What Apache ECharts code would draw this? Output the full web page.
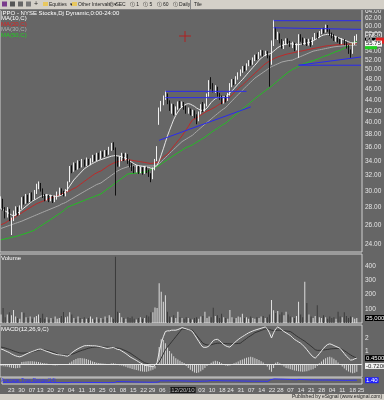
<!DOCTYPE html>
<html><head><meta charset="utf-8">
<script src="https://cdn.jsdelivr.net/npm/echarts@6/dist/echarts.min.js"></script>
<style>html,body{margin:0;padding:0;background:#666666;overflow:hidden}#main{width:384px;height:400px}</style>
</head><body><div id="main"></div>
<script>
// ---- data: [open, close, low, high] per trading day ----
const ohlc = [
[28.2,29.0,27.8,29.3],[28.8,28.0,27.6,29.0],[27.8,27.0,26.7,28.0],[27.2,27.6,26.8,28.0],[27.5,26.7,26.4,27.8],
[25.2,26.6,24.9,26.8],[26.6,27.4,26.4,27.6],[27.4,27.8,27.0,28.1],[27.8,27.2,27.0,28.0],[27.3,28.0,27.1,28.2],
[27.9,28.9,27.8,29.2],[28.9,28.6,28.3,29.3],[28.6,29.2,28.4,29.6],[29.2,28.8,28.5,29.5],[28.8,29.4,28.6,29.7],
[29.4,29.0,28.7,29.8],[29.0,29.8,28.9,30.1],[29.8,30.6,29.6,30.9],[30.5,30.9,30.2,31.2],[30.9,30.2,29.9,31.0],
[30.1,29.4,29.1,30.3],[29.4,29.0,28.7,29.6],[29.0,29.3,28.8,29.6],[29.3,28.9,28.6,29.5],[28.9,29.2,28.7,29.5],
[29.2,28.8,28.5,29.4],[28.8,29.1,28.6,29.4],[29.1,29.6,28.9,29.9],[29.6,30.1,29.4,30.4],[30.1,29.8,29.5,30.3],
[29.8,29.5,29.3,30.0],[29.5,29.9,29.3,30.2],[30.0,31.0,29.9,31.2],[31.2,33.0,31.1,33.3],[33.0,32.6,32.3,33.4],
[32.6,33.4,32.5,33.8],[33.4,33.0,32.7,33.7],[33.0,33.8,32.8,34.1],[33.8,33.2,33.0,34.0],[33.2,33.9,33.1,34.3],
[33.9,33.5,33.2,34.2],[33.5,34.1,33.3,34.5],[34.1,33.6,33.4,34.3],[33.6,34.0,33.4,34.4],[34.0,34.6,33.8,34.9],
[34.6,34.2,34.0,34.9],[34.2,34.9,34.0,35.2],[34.9,34.5,34.2,35.2],[34.5,35.2,34.3,35.5],[35.2,34.8,34.5,35.4],
[34.8,35.3,34.6,35.6],[35.3,35.0,34.7,35.6],[35.0,35.8,34.9,36.1],[35.8,36.3,35.5,36.7],[36.3,35.9,35.6,36.8],
[35.9,34.0,29.4,36.0],[34.0,33.6,33.2,34.6],[33.5,34.4,33.2,34.7],[34.4,34.9,34.0,35.2],[34.9,34.3,34.0,35.1],
[34.3,34.8,34.1,35.2],[34.8,34.0,33.6,35.0],[34.0,33.4,33.1,34.2],[33.4,33.0,32.6,33.7],[33.0,32.7,32.3,33.3],
[32.7,33.1,32.4,33.4],[33.1,32.5,32.2,33.3],[32.5,32.9,32.3,33.2],[32.9,32.4,32.1,33.1],[32.4,33.0,32.2,33.3],
[33.0,32.6,32.3,33.2],[32.6,32.1,31.8,32.8],[32.1,31.7,31.1,32.3],[31.7,32.9,31.5,33.1],[32.9,34.0,32.7,34.3],
[34.2,35.9,34.0,36.2],[39.8,42.3,39.6,42.6],[42.3,43.5,41.9,43.8],[43.5,44.4,43.0,44.8],[44.4,45.2,44.0,45.7],
[45.0,43.6,43.2,45.2],[43.6,42.4,42.0,43.9],[42.4,43.0,41.5,43.3],[43.0,41.6,41.2,43.2],[41.6,42.5,41.3,42.8],
[42.5,43.4,42.2,43.7],[43.4,42.8,42.5,43.8],[42.8,43.4,42.5,43.7],[43.4,42.6,42.2,43.6],[42.6,41.8,41.5,42.9],
[41.8,42.2,41.5,42.6],[42.2,41.5,41.2,42.4],[41.5,41.9,41.1,42.2],[41.9,41.2,40.7,42.1],[41.2,40.4,39.7,41.4],
[40.4,41.6,40.2,41.9],[41.6,42.8,41.4,43.2],[42.8,42.2,41.8,43.6],[42.2,43.0,41.9,43.3],[43.0,44.8,42.8,45.2],
[44.8,47.3,44.6,47.8],[47.3,46.8,46.0,48.4],[46.8,45.8,45.4,47.2],[45.8,46.3,45.3,46.8],[46.3,45.0,44.6,46.5],
[45.0,44.4,44.0,45.3],[44.4,43.6,43.2,44.8],[43.6,44.3,43.3,44.6],[44.3,44.0,43.5,44.8],[44.0,45.0,43.8,45.3],
[45.0,46.8,44.8,47.2],[46.8,47.6,46.4,48.0],[47.6,47.2,46.8,48.0],[47.2,48.2,47.0,48.6],[48.2,49.0,47.9,49.4],
[49.0,49.6,48.6,50.0],[49.6,50.4,49.3,50.7],[50.4,50.0,49.6,50.8],[50.0,51.0,49.8,51.3],[51.0,51.6,50.7,52.0],
[51.6,51.2,50.8,52.0],[51.2,52.2,51.0,52.6],[52.2,52.8,51.8,53.2],[52.8,52.4,52.0,53.3],[52.4,53.3,52.2,53.8],
[53.3,53.8,53.0,54.3],[53.8,53.2,52.8,54.2],[53.2,53.7,52.9,54.1],[53.7,52.8,52.4,54.0],[52.8,51.2,46.5,53.0],
[51.2,55.6,51.0,56.5],[55.6,59.2,55.2,61.6],[59.0,57.4,56.8,59.8],[57.4,58.0,56.6,58.6],[58.0,56.4,55.8,58.2],
[56.4,55.2,54.6,56.8],[55.2,55.9,54.5,56.4],[55.9,56.6,55.4,57.0],[56.6,56.0,55.6,57.0],[56.0,55.4,55.0,56.4],
[55.4,55.8,54.7,56.2],[55.8,54.6,54.0,56.0],[54.6,55.2,54.2,55.8],[54.4,57.6,52.5,58.0],[57.6,56.8,56.2,58.0],
[56.8,56.0,55.4,57.2],[56.0,56.6,55.5,57.0],[56.6,55.8,55.2,56.8],[55.8,56.4,55.3,56.9],[56.4,55.6,55.0,56.7],
[55.6,56.9,55.4,57.3],[56.9,57.9,56.6,58.3],[57.9,57.4,56.9,58.4],[57.4,58.4,57.2,58.8],[58.4,59.0,58.0,59.5],
[59.0,58.6,58.2,59.6],[58.6,59.6,58.4,60.4],[59.6,59.0,58.6,60.3],[59.0,58.0,57.6,59.3],[58.0,57.6,57.0,58.4],
[57.6,56.8,56.4,58.0],[56.8,57.2,56.2,57.6],[57.2,56.4,56.0,57.4],[56.4,56.0,55.6,56.8],[56.0,56.6,55.6,57.0],
[56.6,55.8,55.4,56.8],[55.8,55.2,54.6,56.2],[55.2,54.0,53.4,55.4],[54.0,53.4,52.5,54.4],[53.6,55.6,53.4,56.0],
[55.6,56.8,55.4,57.6],[56.8,57.2,56.4,58.0]
];
const volume = [
60,105,40,60,75,55,92,45,35,30,75,72,40,35,45,30,40,50,60,35,
65,30,40,25,35,30,45,30,35,50,78,40,45,75,60,35,30,45,35,28,
40,30,35,45,30,25,40,30,35,28,45,35,55,40,30,467,80,70,40,35,
30,40,35,45,30,25,35,40,30,35,55,45,75,75,110,105,280,220,150,195,
80,45,40,55,35,80,40,35,30,40,35,30,25,35,40,30,45,50,80,35,
45,40,108,50,55,35,65,40,35,30,92,40,30,35,45,40,65,35,40,30,
45,35,30,40,35,45,50,35,40,60,162,90,70,85,60,75,55,80,60,45,
40,35,50,150,60,40,290,140,60,45,35,50,125,40,35,55,40,30,45,35,
40,30,80,45,40,75,50,35,45,40,30,35
];
const ma10 = [
27.8,27.7,27.55,27.4,27.25,27.1,27.0,27.1,27.3,27.5,27.7,27.9,28.1,28.3,28.5,28.7,
28.85,29.0,29.15,29.3,29.4,29.45,29.5,29.45,29.4,29.35,29.3,29.3,29.35,29.45,
29.6,29.9,30.2,30.6,31.0,31.4,31.7,32.0,32.3,32.6,32.9,
33.1,33.3,33.5,33.65,33.8,33.95,34.1,34.2,
34.3,34.4,34.5,34.6,34.7,34.75,34.8,34.75,34.7,34.6,34.5,34.4,
34.2,34.0,33.8,33.6,33.45,33.35,33.3,
33.25,33.2,33.15,33.1,33.0,32.95,33.1,33.4,
34.0,34.9,35.8,36.8,37.8,38.7,39.6,40.5,
41.2,41.8,42.3,42.7,43.0,43.2,43.3,43.2,
43.0,42.8,42.5,42.3,42.1,42.1,42.2,42.5,
43.0,43.5,43.9,44.2,44.4,44.5,44.5,44.5,44.6,
44.9,45.3,45.7,46.1,46.6,47.0,47.5,47.9,
48.4,48.9,49.4,49.9,50.4,50.9,51.4,52.0,
52.4,52.8,53.1,53.3,53.4,53.6,54.0,54.4,
54.8,55.1,55.3,55.5,55.6,55.7,55.7,55.7,
55.6,55.5,55.5,55.6,55.7,55.8,55.9,56.0,56.2,56.4,56.7,57.0,57.3,57.6,
57.8,57.9,58.0,57.9,57.8,57.6,57.4,
57.2,57.0,56.8,56.6,56.4,56.2,56.0,55.9,55.9,56.0
];
const ma20 = [
26.0,26.1,26.2,26.35,26.5,26.6,26.75,26.9,27.05,
27.2,27.35,27.5,27.65,27.8,27.95,28.1,28.25,28.4,28.5,28.6,28.7,28.8,28.9,
29.0,29.1,29.2,29.3,29.4,29.5,29.6,29.7,29.8,29.9,30.0,30.15,30.3,
30.4,30.6,30.8,31.0,31.2,31.4,31.6,31.8,32.0,32.2,32.35,32.5,
32.6,32.8,33.0,33.2,33.4,33.55,33.7,33.8,
33.9,34.0,34.1,34.15,34.2,34.2,34.15,34.1,34.05,34.0,33.95,
33.9,33.85,33.8,33.75,33.7,33.65,
33.7,33.75,33.8,34.0,34.3,34.6,34.8,
35.0,35.4,35.8,36.2,36.6,37.0,37.4,37.8,38.3,38.8,39.3,39.9,
40.4,40.6,40.8,41.0,41.25,41.5,41.75,41.95,
42.1,42.3,42.5,42.7,42.95,43.2,43.45,43.7,
43.9,44.2,44.55,44.9,45.3,45.7,46.1,46.5,
46.8,47.2,47.6,48.0,48.4,48.8,49.2,49.6,50.0,50.4,50.8,51.2,51.5,51.8,
52.0,52.3,52.5,52.7,52.85,53.0,53.15,53.3,53.4,53.5,53.6,53.7,53.8,
53.9,54.0,54.1,54.2,54.3,54.4,54.5,54.6,54.7,54.8,54.9,55.0,55.1,
55.2,55.25,55.3,55.35,55.4,55.45,55.5,55.5,55.55,55.6,55.6,55.65,55.65,55.7,55.7,55.75
];
const ma30 = [
25.6,25.68,25.76,25.84,25.92,26.0,26.08,26.16,26.24,26.32,26.4,26.5,26.6,26.7,26.8,
26.9,27.0,27.1,27.2,27.3,27.4,27.5,27.6,27.7,27.8,27.9,28.0,28.1,28.2,28.35,28.45,28.55,
28.7,28.85,29.0,29.15,29.3,29.45,29.6,29.75,29.9,30.05,30.2,30.35,30.5,30.65,30.8,30.9,
31.0,31.2,31.4,31.6,31.8,32.0,32.2,32.4,32.6,32.75,32.9,33.0,33.1,
33.2,33.25,33.3,33.3,33.3,33.3,33.3,33.3,33.3,33.3,33.3,33.3,33.3,33.35,33.45,
33.6,33.9,34.2,34.5,34.8,35.1,35.4,35.7,36.0,36.3,36.6,36.9,37.1,37.3,37.5,37.7,
37.9,38.2,38.5,38.8,39.1,39.4,39.7,40.0,40.3,40.6,40.9,41.2,41.5,41.8,42.1,42.35,
42.6,43.0,43.4,43.8,44.2,44.6,45.0,45.4,45.8,46.2,46.6,47.0,47.4,47.8,48.2,48.5,
48.8,49.1,49.4,49.7,50.0,50.3,50.6,50.8,51.0,51.2,51.4,51.6,51.7,51.8,51.9,51.95,
52.0,52.2,52.4,52.6,52.8,53.0,53.2,53.4,53.6,53.8,54.0,54.1,54.2,54.3,54.4,54.5,
54.6,54.7,54.8,54.9,55.0,55.05,55.1,55.15,55.2,55.25,55.3,55.3,55.35,55.35,55.4,55.4
];
const ma50 = [
24.4,24.45,24.5,24.55,24.6,24.65,24.7,24.75,24.8,24.87,24.94,25.01,25.08,25.16,25.24,25.32,
25.4,25.55,25.7,25.85,26.0,26.15,26.3,26.45,26.6,26.76,26.92,27.08,27.24,27.4,27.58,27.8,
28.0,28.1,28.2,28.3,28.4,28.5,28.6,28.7,28.8,28.9,29.0,29.1,29.2,29.3,29.4,29.5,
29.6,29.8,30.0,30.2,30.4,30.6,30.8,31.0,31.2,31.4,31.6,31.8,32.0,
32.2,32.23,32.26,32.29,32.32,32.35,32.38,32.42,32.46,
32.5,32.65,32.8,32.95,33.1,33.25,
33.4,33.6,33.8,34.0,34.2,34.4,34.6,34.8,35.0,35.2,35.4,35.6,35.8,36.0,36.1,36.25,
36.4,36.6,36.8,37.0,37.2,37.4,37.6,37.85,38.1,38.35,38.6,38.8,39.0,39.25,39.5,39.7,
39.9,40.2,40.5,40.8,41.1,41.4,41.7,42.0,42.3,42.6,42.9,43.2,43.55,
43.9,44.2,44.5,44.8,45.1,45.4,45.7,46.0,46.3,
46.6,46.95,47.3,47.65,48.0,48.35,48.7,49.05,49.4,49.7,
50.0,50.2,50.4,50.65,50.9,51.1,
51.3,51.45,51.6,51.75,51.9,52.05,52.2,
52.4,52.6,52.8,52.95,53.1,53.3,53.5,53.7,53.9,54.05,
54.2,54.45,54.7,54.95,55.2,55.5,55.9,56.05,56.2
];
const macdLine = [
1.15,1.1,1.02,0.95,0.88,0.78,0.7,0.63,0.58,0.55,
0.6,0.68,0.76,0.84,0.9,0.96,1.02,1.08,1.13,1.15,
1.1,1.03,0.97,0.92,0.86,0.8,0.76,0.72,0.7,
0.68,0.66,0.62,0.6,0.7,
0.85,0.98,1.08,1.18,1.26,1.33,1.4,
1.41,1.42,1.41,1.4,1.4,
1.38,1.35,1.32,1.28,1.24,1.2,
1.22,1.25,1.27,1.2,1.12,1.1,
1.0,0.9,0.8,0.68,0.55,
0.46,0.37,0.28,0.18,0.08,0.0,-0.1,
-0.12,-0.15,-0.18,-0.2,-0.1,0.1,
0.9,1.6,2.1,2.5,
2.55,2.55,2.6,2.6,2.6,2.65,2.72,2.8,
2.75,2.7,2.65,2.6,2.5,
2.25,2.0,1.75,1.5,1.3,
1.28,1.3,1.4,1.6,1.8,1.88,1.9,
1.8,1.65,1.5,1.4,1.33,1.3,
1.45,1.6,1.75,1.88,2.0,
2.1,2.2,2.3,2.4,2.47,2.54,2.6,
2.65,2.7,2.75,2.8,2.85,
2.7,2.4,2.0,2.4,2.7,2.85,
2.75,2.62,2.5,2.4,2.3,2.2,
2.05,1.9,1.8,1.7,1.6,1.45,1.3,
1.1,0.9,0.7,0.55,0.45,
0.6,0.8,1.0,1.2,1.38,1.5,1.55,
1.5,1.42,1.35,1.28,1.2,
1.0,0.8,0.6,0.45,0.3,
0.32,0.4,0.45
];
const signalLine = [
1.3,1.27,1.23,1.18,1.13,1.07,1.01,0.95,0.9,0.85,
0.84,0.84,0.85,0.87,0.9,0.93,0.97,1.01,1.06,1.1,
1.1,1.08,1.05,1.01,0.96,0.91,0.85,0.78,0.7,
0.7,0.7,0.69,0.68,0.7,0.75,0.8,0.87,0.94,1.0,1.06,
1.1,1.16,1.21,1.25,1.28,1.3,
1.31,1.31,1.31,1.3,1.3,1.3,
1.29,1.28,1.27,1.25,1.22,1.2,
1.15,1.08,1.01,0.93,0.85,
0.74,0.63,0.52,0.41,0.3,0.2,0.1,
0.05,0.0,-0.04,-0.07,-0.1,-0.05,
0.15,0.45,0.78,1.1,
1.3,1.5,1.7,1.9,2.1,
2.3,2.5,2.7,
2.68,2.66,2.64,2.62,2.6,
2.4,2.2,2.0,1.8,1.6,
1.52,1.47,1.45,1.48,1.53,1.57,1.6,
1.6,1.59,1.58,1.57,1.56,1.55,
1.55,1.56,1.57,1.58,1.6,
1.72,1.84,1.96,2.08,2.18,2.28,2.4,
2.46,2.52,2.58,2.64,2.7,
2.68,2.66,2.6,2.58,2.58,2.6,
2.6,2.58,2.56,2.54,2.52,2.5,
2.4,2.28,2.16,2.05,1.95,1.85,1.75,
1.62,1.5,1.37,1.24,1.1,
1.05,1.05,1.06,1.08,1.1,1.12,1.15,
1.17,1.18,1.19,1.2,1.2,
1.12,1.02,0.92,0.8,0.7,
0.6,0.52,0.45
];
const macdHist = [
-0.15,-0.17,-0.2,-0.22,-0.25,-0.28,-0.3,-0.32,-0.3,-0.28,
0.15,0.18,0.2,0.22,0.22,0.22,0.2,0.18,0.15,0.12,0.08,0.05,0.03,
-0.05,-0.08,-0.1,-0.12,-0.1,-0.08,-0.06,-0.05,-0.04,-0.03,
0.1,0.2,0.3,0.38,0.44,0.46,0.45,0.42,0.38,0.32,0.26,
0.2,0.15,0.1,0.07,0.05,0.03,0.02,0.0,-0.02,0.04,0.06,0.02,-0.05,-0.1,-0.12,
-0.18,-0.22,-0.28,-0.32,-0.38,-0.42,-0.46,-0.5,-0.55,-0.58,-0.6,-0.6,-0.55,-0.5,-0.45,-0.35,
0.1,
1.3,1.9,1.85,1.6,1.3,
1.0,0.8,0.6,0.45,0.35,0.25,0.15,0.08,
-0.15,-0.3,-0.45,-0.55,-0.65,-0.7,-0.65,-0.55,-0.45,-0.3,
-0.15,-0.05,0.1,0.2,0.25,0.22,0.15,0.05,-0.05,-0.12,-0.15,-0.12,-0.05,0.05,0.12,0.2,
0.28,0.35,0.42,0.48,0.52,0.55,0.52,0.45,0.38,0.3,0.22,
0.12,0.0,-0.2,-0.45,-0.6,-0.3,
0.1,0.15,0.05,-0.1,-0.2,-0.3,-0.35,-0.4,-0.45,-0.5,-0.52,-0.55,-0.58,-0.6,-0.58,-0.55,
-0.5,-0.45,-0.4,-0.3,-0.15,0.05,
0.2,0.35,0.45,0.52,0.55,0.5,0.4,0.28,
0.12,-0.05,-0.2,-0.35,-0.48,-0.58,-0.65,-0.72,-0.68,-0.6
];
const atr = [
0.82,0.83,0.85,0.84,0.86,0.9,0.9,0.89,0.88,0.87,0.87,0.86,0.86,0.85,0.85,0.84,0.84,0.85,0.85,0.84,
0.84,0.83,0.82,0.81,0.8,0.79,0.78,0.78,0.78,0.77,0.77,0.77,0.79,0.84,0.84,0.85,0.84,0.84,0.83,0.83,
0.82,0.82,0.81,0.8,0.8,0.79,0.79,0.79,0.78,0.78,0.78,0.77,0.78,0.79,0.8,1.05,1.04,1.03,1.02,1.01,
1.0,0.99,0.97,0.96,0.94,0.93,0.91,0.9,0.89,0.88,0.87,0.86,0.86,0.87,0.89,0.93,1.25,1.25,1.24,1.24,
1.25,1.25,1.26,1.26,1.25,1.24,1.23,1.21,1.2,1.19,1.17,1.15,1.13,1.12,1.13,1.14,1.15,1.17,1.16,1.2,
1.28,1.32,1.32,1.31,1.3,1.28,1.27,1.25,1.24,1.23,1.25,1.25,1.24,1.23,1.22,1.2,1.19,1.18,1.17,1.16,
1.15,1.15,1.14,1.14,1.14,1.13,1.13,1.12,1.12,1.5,1.6,1.75,1.75,1.72,1.7,1.68,1.66,1.64,1.62,1.6,
1.58,1.56,1.54,1.62,1.6,1.58,1.56,1.54,1.52,1.5,1.49,1.48,1.47,1.46,1.45,1.45,1.46,1.45,1.44,1.43,
1.42,1.41,1.4,1.39,1.38,1.37,1.36,1.37,1.38,1.4,1.41,1.4
];
const priceTicks = [24,26,28,30,32,34,36,38,40,42,44,46,48,50,52,54,56,58,60,62,64];
const volumeTicks = [100,200,300,400];
const macdTicks = [1,2];
const holidays = ['2010-09-06','2010-11-25','2010-12-24','2011-01-17','2011-02-21','2011-04-22'];
const firstDay = '2010-08-17', lastDay = '2011-04-25';
const cursorDay = '2010-12-20', hiddenDay = '2010-12-27';
const monthNames = ['2011','Feb','Mar','Apr','May','Jun','Jul','Aug','Sep','Oct','Nov','Dec'];
// drawn trend lines: [[dayIndex, price],[dayIndex, price]]
const trendLines = [
 [[76,37.1],[120,42.7]],
 [[79,45.6],[118,45.6]],
 [[79,44.4],[110,44.4]],
 [[131,61.4],[173,61.4]],
 [[131,59.6],[173,59.2]],
 [[143,50.9],[173,52.7]],
 [[143,50.9],[173,50.9]]
];
// value boxes at the right edge of the price panel
const lastBoxes = [
 {v:57.8,bg:'#c8c8c8',fg:'#222',t:'57.80',d:3},
 {v:56.45,bg:'#000',fg:'#fff',t:'56.45',d:3},
 {v:56.45,bg:'#e02020',fg:'#e02020',t:'000',d:14},
 {v:55.75,bg:'#f4f4f4',fg:'#222',t:'55.75',d:3},
 {v:54.8,bg:'#20d020',fg:'#20d020',t:'000000',d:3,fs:3}
];

// ---- calendar ----
function parseD(s){const p=s.split('-');return Date.UTC(+p[0],+p[1]-1,+p[2]);}
function fmtD(t){const d=new Date(t);return d.getUTCFullYear()+'-'+String(d.getUTCMonth()+1).padStart(2,'0')+'-'+String(d.getUTCDate()).padStart(2,'0');}
const dates=[];
for(let t=parseD(firstDay);t<=parseD(lastDay);t+=864e5){const wd=new Date(t).getUTCDay();const s=fmtD(t);if(wd>0&&wd<6&&holidays.indexOf(s)<0)dates.push(s);}
const dayLbl={}, monLbl={};
dates.forEach((s,i)=>{
  if(i===0)return;
  const d=new Date(parseD(s)), p=new Date(parseD(dates[i-1]));
  if(d.getUTCDay()<=p.getUTCDay() && s!==hiddenDay) dayLbl[s]= s===cursorDay ? '{hl|12/20/10}' : String(d.getUTCDate()).padStart(2,'0');
  if(d.getUTCMonth()!==p.getUTCMonth()) monLbl[s]=monthNames[d.getUTCMonth()];
});

const upC='#f0f0f0', dnC='#101010';
const volData = volume.map((v,i)=>({value:v,itemStyle:{color: ohlc[i][1]>=ohlc[i][0] ? '#dedede' : '#3c3c3c'}}));
const FONT='Liberation Sans';
const txt='#e6e6e6';
const clear='rgba(0,0,0,0)';
const last=a=>a[a.length-1];

function tickMarks(ticks, fmt){
  return {symbol:['none','none'],silent:true,animation:false,lineStyle:{color:clear,width:1},
    label:{show:true,position:'end',distance:3,color:txt,fontSize:6.5,fontFamily:FONT,formatter:p=>fmt(p.value)},
    emphasis:{disabled:true},
    data:ticks.map(v=>({yAxis:v}))};
}
function boxMark(v,bg,fg,t,d,fs){
  return {yAxis:v,label:{backgroundColor:bg,color:fg,padding:[0,1],distance:d||3,fontSize:fs||6,formatter:t}};
}

const grids=[
 {left:0,right:22,top:9,height:243},
 {left:0,right:22,top:254,height:69},
 {left:0,right:22,top:325,height:52},
 {left:0,right:22,top:378,height:6}
].map(g=>Object.assign(g,{show:true,borderColor:'#d0d0d0',borderWidth:1,backgroundColor:'#666666'}));

const xAxes=[0,1,2,3].map(k=>({type:'category',gridIndex:k,data:dates,boundaryGap:true,show:k===3,
  axisLine:{show:false},axisTick:{show:false},
  axisLabel:{show:k===3,interval:0,margin:3,color:txt,fontSize:6,fontFamily:FONT,
    formatter:v=>dayLbl[v]||'',rich:{hl:{backgroundColor:'#1a1a1a',color:'#bbbbbb',fontSize:6,padding:[0,1]}}}}));
xAxes.push({type:'category',gridIndex:3,data:dates,boundaryGap:true,position:'bottom',offset:7,
  axisLine:{show:false},axisTick:{show:false},
  axisLabel:{interval:0,margin:3,color:txt,fontSize:6,fontFamily:FONT,formatter:v=>monLbl[v]||''}});

const yAxes=[
 {type:'log',gridIndex:0,min:23.18,max:64.5,position:'right',show:true,axisLine:{show:false},axisTick:{show:false},axisLabel:{show:false},splitLine:{show:false}},
 {type:'value',gridIndex:1,min:0,max:486,position:'right',axisLine:{show:false},axisTick:{show:false},axisLabel:{show:false},splitLine:{show:false}},
 {type:'value',gridIndex:2,min:-1,max:3,position:'right',axisLine:{show:false},axisTick:{show:false},axisLabel:{show:false},splitLine:{show:false}},
 {type:'value',gridIndex:3,min:0.4,max:2.0,position:'right',axisLine:{show:false},axisTick:{show:false},axisLabel:{show:false},splitLine:{show:false}}
];

const lineS=(data,color,xi,yi,z)=>({type:'line',data,xAxisIndex:xi,yAxisIndex:yi,showSymbol:false,silent:true,z:z||3,
  lineStyle:{color,width:1},animation:false});

const ml=tickMarks(priceTicks,v=>v.toFixed(2));
lastBoxes.forEach(b=>ml.data.push(boxMark(b.v,b.bg,b.fg,b.t,b.d,b.fs)));

const volMl=tickMarks(volumeTicks,v=>String(v));
volMl.data.push(boxMark(last(volume),'#000','#fff',last(volume)+',000'));
const macdMl=tickMarks(macdTicks,v=>String(v));
macdMl.data.push(boxMark(last(macdLine),'#000','#fff',last(macdLine).toFixed(4)));
macdMl.data.push(boxMark(-0.15,'#f0f0f0','#222','-0.7200'));
const atrMl={symbol:['none','none'],silent:true,animation:false,lineStyle:{color:clear},
  label:{show:true,position:'end',distance:3,fontFamily:FONT},data:[boxMark(last(atr),'#2020ff','#fff',last(atr).toFixed(2))]};

const series=[
 {type:'candlestick',data:ohlc,xAxisIndex:0,yAxisIndex:0,barWidth:0.6,z:4,
  itemStyle:{color:upC,color0:dnC,borderColor:upC,borderColor0:dnC,borderWidth:1},markLine:ml},
 lineS(ma50,'#22c022',0,0),
 lineS(ma30,'#a8a8a8',0,0),
 lineS(ma20,'#c02828',0,0),
 lineS(ma10,'#e8e8e8',0,0),
 ...trendLines.map(t=>lineS(t,'#2a2af0',0,0,5)),
 {type:'bar',data:volData,xAxisIndex:1,yAxisIndex:1,barWidth:1,silent:true,markLine:volMl},
 {type:'bar',data:macdHist,xAxisIndex:2,yAxisIndex:2,barWidth:1,silent:true,itemStyle:{color:'#d4d4d4'},
  markLine:{symbol:['none','none'],silent:true,animation:false,lineStyle:{color:'#e8e8e8',width:1,type:'solid'},label:{show:false},data:[{yAxis:0}]}},
 Object.assign(lineS(signalLine,'#333333',2,2),{markLine:macdMl}),
 lineS(macdLine,'#e8e8e8',2,2),
 Object.assign(lineS(atr,'#3030ff',3,3),{markLine:atrMl})
];

const chart=echarts.init(document.getElementById('main'),null,{renderer:'canvas'});
const T=(x,y,text,fill,size,extra)=>Object.assign({type:'text',left:x,top:y,silent:true,style:{text,fill,fontSize:size||6,fontFamily:FONT}},extra||{});
chart.setOption({
 backgroundColor:'#666666',animation:false,
 grid:grids,xAxis:xAxes,yAxis:yAxes,series,
 graphic:[
  {type:'rect',shape:{x:0,y:0,width:384,height:9},style:{fill:'#d4d0c8'},silent:true,z:10},
  {type:'rect',shape:{x:0,y:9,width:384,height:1},style:{fill:'#808080'},silent:true,z:10},
  {type:'rect',shape:{x:2,y:1.5,width:5,height:5},style:{fill:'#7a3b8c'},silent:true,z:11},
  {type:'rect',shape:{x:10,y:1.5,width:5,height:5},style:{fill:'#555'},silent:true,z:11},
  {type:'rect',shape:{x:18,y:1.5,width:5,height:5},style:{fill:'#666'},silent:true,z:11},
  {type:'rect',shape:{x:26,y:1.5,width:5,height:5},style:{fill:'#777'},silent:true,z:11},
  T(34,1,'+','#222',7,{z:11}),
  {type:'rect',shape:{x:43,y:2,width:5,height:4},style:{fill:'#e8c860'},silent:true,z:11},
  T(49,2,'Equities  \u25be','#222',5,{z:11}),
  {type:'rect',shape:{x:72,y:2,width:5,height:4},style:{fill:'#e8c860'},silent:true,z:11},
  T(78,2,'Other Intervals  \u25be','#222',5,{z:11}),
  T(109,2,'\u24b9 SEC   \u24be 1   \u24be 5   \u24be 60   \u24be Daily','#222',5,{z:11}),
  {type:'rect',shape:{x:190,y:0,width:1,height:9},style:{fill:'#888'},silent:true,z:11},
  T(194,2,'Tile','#222',5,{z:11}),
  T(1,10,'|PPO - NYSE Stocks,Dj Dynamic,0:00-24:00','#ffffff',6,{z:11}),
  T(1,15.5,'MA(10,C)','#ffffff',6,{z:11}),
  T(1,21,'MA(20,C)','#e02020',6,{z:11}),
  T(1,26.5,'MA(30,C)','#b0b0b0',6,{z:11}),
  T(1,32,'MA(50,C)','#20d020',6,{z:11}),
  {type:'line',shape:{x1:179,y1:36,x2:191,y2:36},style:{stroke:'#b02020',lineWidth:1},silent:true,z:11},
  {type:'line',shape:{x1:185,y1:31,x2:185,y2:42},style:{stroke:'#b02020',lineWidth:1},silent:true,z:11},
  T(1,255,'Volume','#ffffff',6,{z:11}),
  T(1,326,'MACD(12,26,9,C)','#ffffff',6,{z:11}),
  T(1,378,'Average True Range(14)','#3030ff',5,{z:11}),
  {type:'rect',shape:{x:0,y:394,width:384,height:6},style:{fill:'#d4d0c8'},silent:true,z:10},
  T(292,394.5,'Published by eSignal (www.esignal.com)','#222',5,{z:11})
 ]
});
</script></body></html>
